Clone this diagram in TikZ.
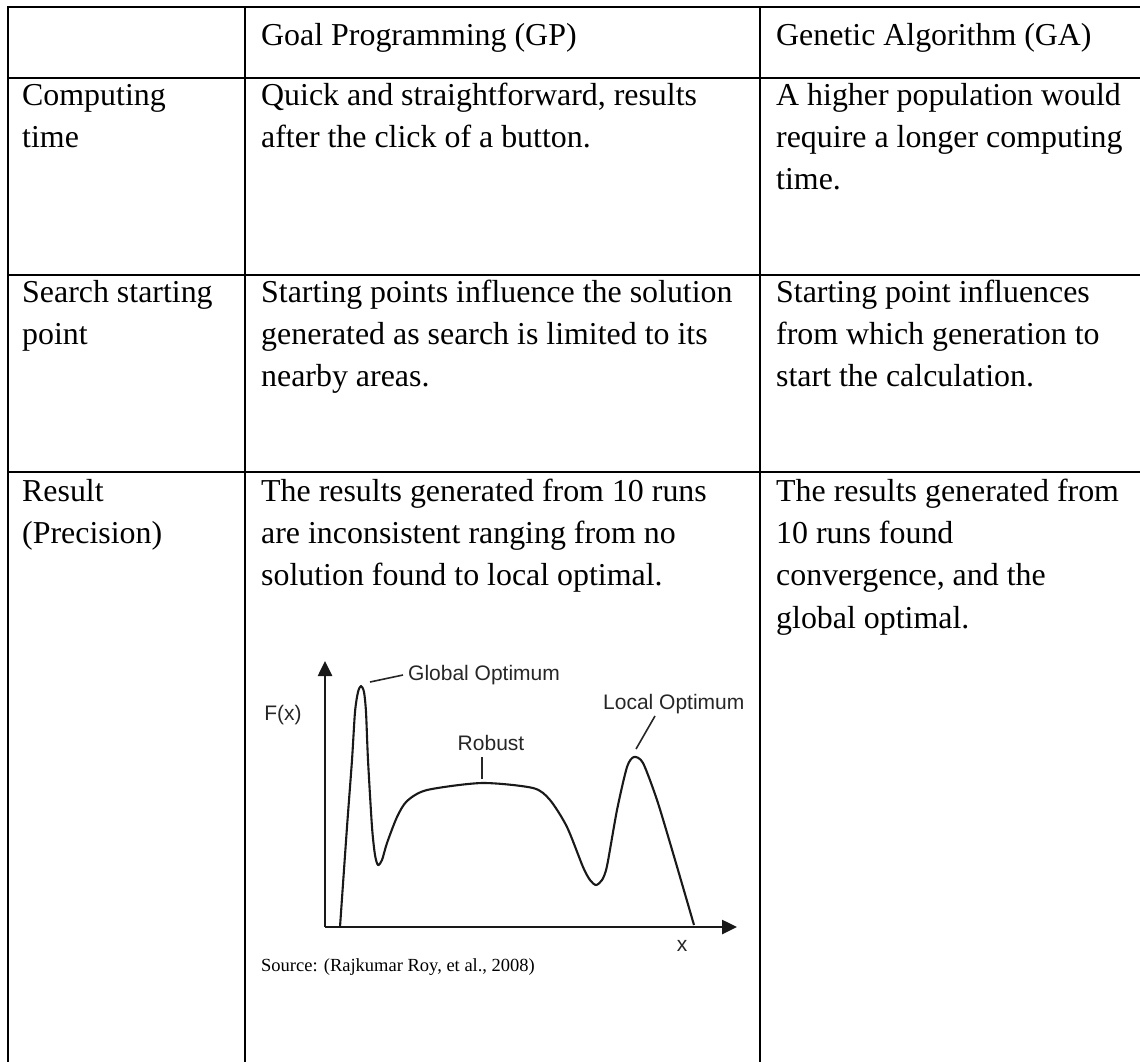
\documentclass[tikz,border=0pt]{standalone}
\usepackage{fontspec}
\setmainfont{Liberation Serif}
\newfontfamily\plotfont{Liberation Sans}
\usetikzlibrary{arrows.meta}
\begin{document}
\begin{tikzpicture}[x=1pt,y=-1pt,
  rule/.style={line width=2.6pt, line cap=rect},
  cell/.style={anchor=base west, inner sep=0pt, font=\fontsize{31.9}{42.2}\selectfont},
  src/.style={anchor=base west, inner sep=0pt, font=\fontsize{18.5}{22}\selectfont},
  lab/.style={inner sep=0pt, text=black!85, font=\plotfont\fontsize{21}{24}\selectfont},
  axis/.style={line width=2.6pt, black!90, -{Triangle[length=15pt,width=14pt]}},
  curve/.style={line width=2.1pt, black!90, line join=round},
  leader/.style={line width=1.6pt, black!85}
]
\useasboundingbox (0,0) rectangle (1140,1061);

% table rules
\draw[rule] (8,7) -- (1140,7);
\draw[rule] (8,78) -- (1140,78);
\draw[rule] (8,275) -- (1140,275);
\draw[rule] (8,472) -- (1140,472);
\draw[rule] (8,7) -- (8,1064);
\draw[rule] (245,7) -- (245,1064);
\draw[rule] (760,7) -- (760,1064);

% header row
\node[cell] (hgp) at (261,45) {Goal Programming (GP)};
\node[cell] (hga) at (776,45) {Genetic Algorithm (GA)};

% computing time
\node[cell] (c1) at (22,105) {Computing};
\node[cell] (c2) at (22,147) {time};
\node[cell] (cgp1) at (261,105) {Quick and straightforward, results};
\node[cell] (cgp2) at (261,147) {after the click of a button.};
\node[cell] (cga1) at (776,105) {A higher population would};
\node[cell] (cga2) at (776,147) {require a longer computing};
\node[cell] (cga3) at (776,189) {time.};

% search starting point
\node[cell] (s1) at (22,302) {Search starting};
\node[cell] (s2) at (22,344) {point};
\node[cell] (sgp1) at (261,302) {Starting points influence the solution};
\node[cell] (sgp2) at (261,344) {generated as search is limited to its};
\node[cell] (sgp3) at (261,386) {nearby areas.};
\node[cell] (sga1) at (776,302) {Starting point influences};
\node[cell] (sga2) at (776,344) {from which generation to};
\node[cell] (sga3) at (776,386) {start the calculation.};

% result (precision)
\node[cell] (p1) at (22,501) {Result};
\node[cell] (p2) at (22,543) {(Precision)};
\node[cell] (pgp1) at (261,501) {The results generated from 10 runs};
\node[cell] (pgp2) at (261,543) {are inconsistent ranging from no};
\node[cell] (pgp3) at (261,585) {solution found to local optimal.};
\node[cell] (pga1) at (776,501) {The results generated from};
\node[cell] (pga2) at (776,543) {10 runs found};
\node[cell] (pga3) at (776,585) {convergence, and the};
\node[cell] (pga4) at (776,628) {global optimal.};

% fitness landscape sketch
\coordinate (o) at (325,927);
\coordinate (ytip) at (325,661);
\coordinate (xtip) at (737,927);
\draw[axis] (o) -- (ytip);
\draw[axis] (o) -- (xtip);

\draw[curve] plot[smooth, tension=0.45] coordinates {
  (340,927) (347,827) (352,760) (355,712) (358,692) (361,686)
  (364,692) (366,712) (368,760) (372,827) (375,855) (378,865)
  (382,860) (387,843) (397,817) (407,801) (427,790) (482,783)
  (533,788) (550,800) (567,827) (583,867) (590,880) (596,885)
  (602,880) (607,866) (617,810) (627,767) (634,757) (643,763)
  (657,800) (673,853) (694,925)};

\coordinate (gpk) at (370,682);
\coordinate (robtop) at (482,757);
\coordinate (rob) at (482,779);
\coordinate (lpk) at (636,749);

\node[lab] (fx) at (283,715) {F(x)};
\node[lab, anchor=west] (glob) at (408,675) {Global Optimum};
\node[lab] (robl) at (491,743) {Robust};
\node[lab, anchor=west] (loc) at (603,704) {Local Optimum};
\node[lab] (xl) at (682,946) {x};

\draw[leader] ([xshift=-5pt]glob.west) -- (gpk);
\draw[leader] (robtop) -- (rob);
\draw[leader] ([xshift=52pt,yshift=-2pt]loc.south west) -- (lpk);

\node[src] (srcl) at (261,971) {Source: (Rajkumar Roy, et al., 2008)};
\end{tikzpicture}
\end{document}
